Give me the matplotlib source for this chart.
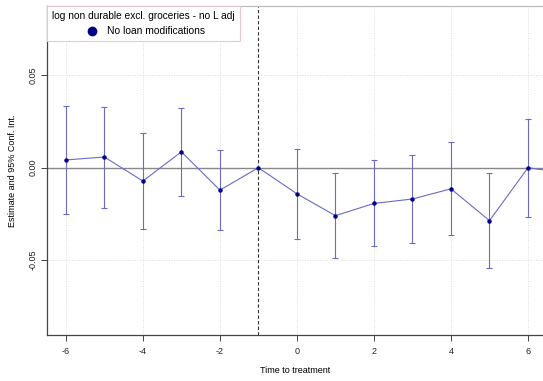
import matplotlib
matplotlib.use("Agg")
import matplotlib.pyplot as plt
from matplotlib.lines import Line2D

periods = [-6, -5, -4, -3, -2, -1, 0, 1, 2, 3, 4, 5, 6, 7]
estimates = [0.0042, 0.0058, -0.0072, 0.0086, -0.0121, 0.0, -0.0141, -0.0259, -0.0193, -0.0169, -0.0114, -0.0286, 0.0, -0.003]
ci_low = [-0.0252, -0.0218, -0.0330, -0.0153, -0.0339, None, -0.0384, -0.0490, -0.0425, -0.0409, -0.0365, -0.0544, -0.0266, None]
ci_high = [0.0335, 0.0330, 0.0188, 0.0324, 0.0096, None, 0.0101, -0.0029, 0.0042, 0.0069, 0.0137, -0.0029, 0.0263, None]
xticks = [-6, -4, -2, 0, 2, 4, 6]
yticks = [-0.05, 0.0, 0.05]
ytick_labels = ["-0.05", "0.00", "0.05"]

plt.rcParams['font.family'] = ['Liberation Sans', 'DejaVu Sans']

fig = plt.figure(figsize=(5.43, 3.81), dpi=100)
ax = fig.add_axes([47/543, 1-335/381, 1-47/543, (335-6)/381])
ax.set_xlim(-6.49, 6.39)
ax.set_ylim(-0.0904, 0.0874)

for xv in xticks:
    ax.axvline(xv, color='#dddddd', lw=0.7, ls=(0, (1, 1.5)), zorder=0)
for yv in yticks:
    ax.axhline(yv, color='#dddddd', lw=0.7, ls=(0, (1, 1.5)), zorder=0)
ax.axhline(0, color='#888888', lw=1.0, zorder=1)
ax.axvline(-1, color='#333333', lw=0.8, ls=(0, (3, 2)), zorder=1)

col = '#6a6ac8'
ax.plot(periods, estimates, color=col, lw=0.8, zorder=2)
for xv, lo, hi in zip(periods, ci_low, ci_high):
    if lo is None:
        continue
    ax.errorbar([xv], [(lo+hi)/2], yerr=[[(hi-lo)/2], [(hi-lo)/2]], fmt='none',
                ecolor=col, elinewidth=0.8, capsize=2.5, capthick=0.8, zorder=2)
ax.plot(periods, estimates, 'o', color='#00008b', ms=2.2, zorder=3)

ax.set_xticks(xticks)
ax.set_xticklabels([str(t) for t in xticks])
ax.set_yticks(yticks)
ax.set_yticklabels(ytick_labels, rotation=90, va='center')
ax.tick_params(axis='both', labelsize=6.5, colors='#222222', length=4, width=0.6, direction='out', pad=5)
ax.tick_params(axis='y', pad=3)
ax.set_xlabel("Time to treatment", fontsize=6.5, labelpad=7)
ax.set_ylabel("Estimate and 95% Conf. Int.", fontsize=6.5, labelpad=8)

for s in ['left', 'bottom']:
    ax.spines[s].set_color('#444444')
    ax.spines[s].set_linewidth(0.9)
ax.spines['top'].set_color('#bbbbbb')
ax.spines['top'].set_linewidth(0.9)
ax.spines['right'].set_visible(False)

handle = Line2D([], [], marker='o', color='#00008b', ls='none', ms=6)
leg = ax.legend([handle], ["No loan modifications"], title="log non durable excl. groceries - no L adj",
                loc='upper left', bbox_to_anchor=(0, 1), fontsize=7.4, title_fontsize=7.3,
                frameon=True, fancybox=False, borderpad=0.5, handletextpad=0.4, borderaxespad=0)
leg.get_frame().set_edgecolor('#e8c8cc')
leg.get_frame().set_linewidth(0.8)
leg.get_frame().set_alpha(1)

fig.savefig("out.png", dpi=100)
